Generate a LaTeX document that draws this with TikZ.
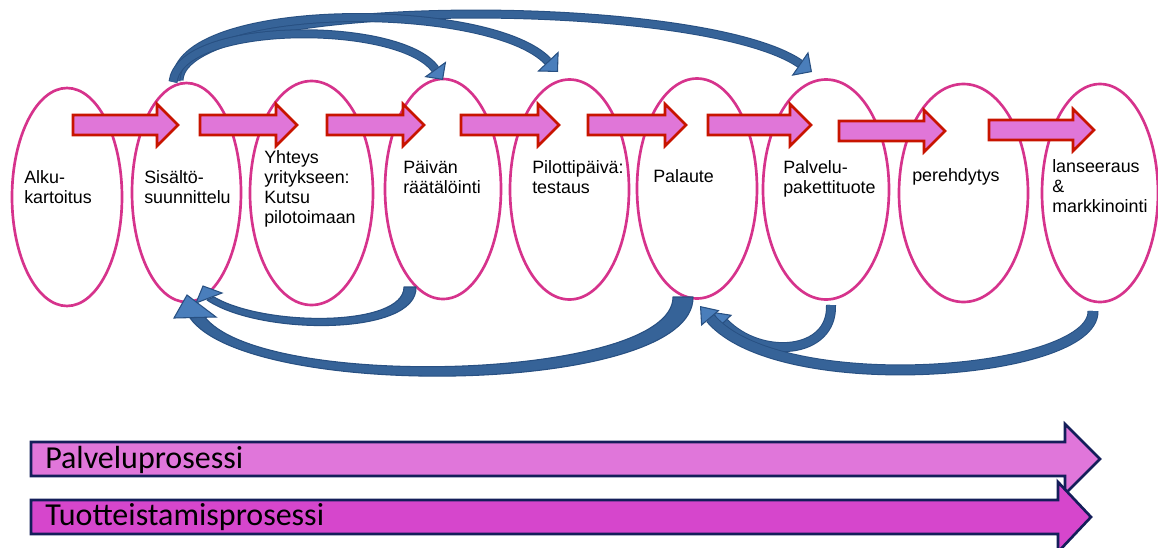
\documentclass[tikz,border=0pt]{standalone}
\usepackage{fontspec}
\setmainfont{Liberation Sans}
\newfontfamily\carl{Carlito}
\usetikzlibrary{shapes.geometric,arrows.meta}
\definecolor{epink}{RGB}{214,51,140}
\definecolor{rfill}{RGB}{224,118,216}
\definecolor{rline}{RGB}{200,20,0}
\definecolor{bdark}{RGB}{40,80,130}
\definecolor{bmid}{RGB}{54,99,152}
\definecolor{blight}{RGB}{74,126,187}
\definecolor{nline}{RGB}{20,30,90}
\definecolor{pfillA}{RGB}{224,118,218}
\definecolor{pfillB}{RGB}{214,70,204}
\tikzset{
  ell/.style={ellipse, draw=epink, line width=2pt, inner sep=0pt},
  redarrow/.style={fill=rfill, draw=rline, line width=1.9pt, line join=miter},
  lbl/.style={font=\fontsize{13.4pt}{15pt}\selectfont, align=left, anchor=north west, inner sep=0pt},
  bigarrow/.style={draw=nline, line width=2pt, line join=miter},
  bigtxt/.style={font=\carl\fontsize{24pt}{28pt}\selectfont, anchor=base west, inner sep=0pt},
  bbody/.style={fill=bmid, draw=bdark, line width=0.8pt, line join=round},
  bhead/.style={fill=blight, draw=bdark, line width=0.8pt, line join=miter},
}
\newcommand\rarr[3]{\draw[redarrow] (#1,#3-10) -- (#2-21,#3-10) -- (#2-21,#3-21) -- (#2,#3) -- (#2-21,#3+21) -- (#2-21,#3+10) -- (#1,#3+10) -- cycle;}
\newcommand\barc[5]{%
  \draw[line width=#2, draw=bdark, shorten >=#4] #5;
  \draw[line width=#1, draw=bmid, -{Triangle[width=#3,length=#4,color=bdark,fill=blight,line width=0.8pt]}] #5;}
\begin{document}
\begin{tikzpicture}[x=0.75pt,y=-0.75pt]
\useasboundingbox (0,0) rectangle (1158,547);
% ellipses
\node[ell, minimum width=82.5pt, minimum height=163.5pt] (e1) at (67,197) {};
\node[ell, minimum width=81.75pt, minimum height=164.25pt] (e2) at (186.5,192.5) {};
\node[ell, minimum width=92.25pt, minimum height=168pt] (e3) at (311.5,193) {};
\node[ell, minimum width=87pt, minimum height=165pt] (e4) at (443,189) {};
\node[ell, minimum width=89.25pt, minimum height=165pt] (e5) at (569.5,189.5) {};
\node[ell, minimum width=90pt, minimum height=165pt] (e6) at (697,188.5) {};
\node[ell, minimum width=94.5pt, minimum height=165pt] (e7) at (826,189.5) {};
\node[ell, minimum width=96.75pt, minimum height=163.5pt] (e8) at (963.5,193) {};
\node[ell, minimum width=87pt, minimum height=163.5pt] (e9) at (1100,193) {};
% red arrows
\rarr{73}{178}{125}
\rarr{200}{297}{125}
\rarr{327}{424}{125}
\rarr{461}{559}{125}
\rarr{588}{686}{125}
\rarr{708}{811}{125}
\rarr{839}{945}{131}
\rarr{989}{1094}{130}
% blue arcs: free ends
\coordinate (s2a) at (173,82);
\coordinate (s2b) at (176,81);
\coordinate (s2c) at (179,80);
\coordinate (t4) at (443,80);
\coordinate (t5) at (558,72);
\coordinate (t7) at (812,72);
\coordinate (b7) at (831,305);
\coordinate (h6a) at (714,312);
\coordinate (b9) at (1093,311);
\coordinate (h6b) at (700,306);
\barc{5.25pt}{6.75pt}{22pt}{11pt}{(s2c) .. controls (182,-5) and (700,-5) .. (t7)}
\barc{5.25pt}{6.75pt}{22pt}{11pt}{(s2b) .. controls (176,0) and (490,0) .. (t5)}
\barc{5.25pt}{6.75pt}{20pt}{10pt}{(s2a) .. controls (180,20) and (400,20) .. (t4)}
% tapered bottom arcs back to Sisaltosuunnittelu
\draw[bbody] (416,287) .. controls (418,336) and (260,336) .. (207,300)
  -- (214,297) .. controls (265,327) and (404,327) .. (404,287) -- cycle;
\draw[bhead] (203,286) -- (222,293) -- (196,303) -- cycle;
\draw[bbody] (693,297) .. controls (695,395) and (250,402) .. (190,318)
  -- (204,316) .. controls (260,392) and (673,380) .. (673,297) -- cycle;
\draw[bhead] (187,295) -- (216,317) -- (174,318) -- cycle;
\barc{6pt}{7.5pt}{16.5pt}{11pt}{(b7) .. controls (833,355) and (760,360) .. (h6a)}
\barc{6.75pt}{8.25pt}{18pt}{12pt}{(b9) .. controls (1095,375) and (780,400) .. (h6b)}
% labels
\node[lbl] (l1) at (24,170) {Alku-\\kartoitus};
\node[lbl] (l2) at (144,170) {Sisältö-\\suunnittelu};
\node[lbl] (l3) at (264,150) {Yhteys\\yritykseen:\\Kutsu\\pilotoimaan};
\node[lbl] (l4) at (403,160) {Päivän\\räätälöinti};
\node[lbl] (l5) at (532,160) {Pilottipäivä:\\testaus};
\node[lbl] (l6) at (653,169) {Palaute};
\node[lbl] (l7) at (783,160) {Palvelu-\\pakettituote};
\node[lbl] (l8) at (912,168) {perehdytys};
\node[lbl] (l9) at (1052,159) {lanseeraus\\\&\\markkinointi};
% bottom process arrows
\draw[bigarrow, fill=pfillA] (31,442) -- (1065,442) -- (1065,424) -- (1100,459) -- (1065,494) -- (1065,476) -- (31,476) -- cycle;
\draw[bigarrow, fill=pfillB] (31,500) -- (1058,500) -- (1058,482) -- (1091,517) -- (1058,552) -- (1058,534) -- (31,534) -- cycle;
\node[bigtxt] (p1) at (45,468) {Palveluprosessi};
\node[bigtxt] (p2) at (45,525) {Tuotteistamisprosessi};
\end{tikzpicture}
\end{document}
